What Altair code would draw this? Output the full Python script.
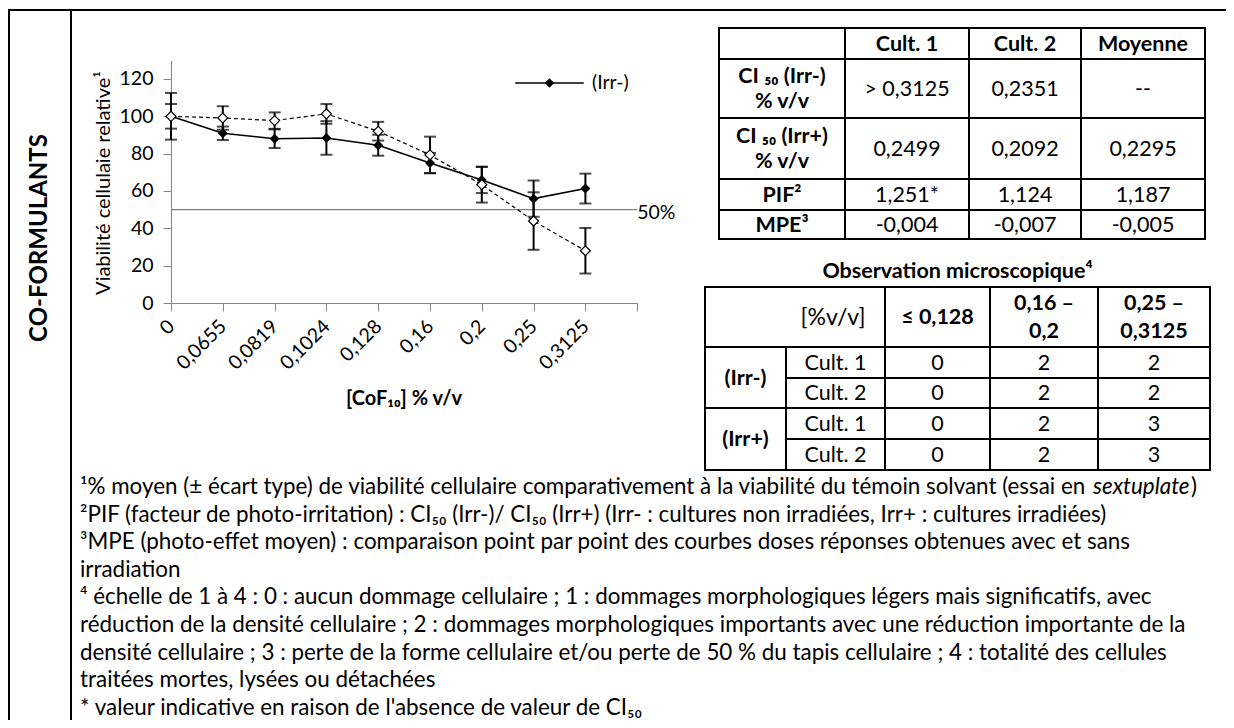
import altair as alt
import pandas as pd

# ---------------- data ----------------
conc_labels = ["0", "0,0655", "0,0819", "0,1024", "0,128", "0,16", "0,2", "0,25", "0,3125"]
irr_minus_mean = [100.0, 90.9, 88.0, 88.4, 84.5, 75.0, 65.9, 55.9, 61.3]
irr_minus_sd = [12.5, 3.6, 5.0, 9.0, 5.6, 5.4, 7.0, 9.7, 8.0]
irr_plus_mean = [100.0, 99.1, 97.7, 101.3, 92.0, 79.3, 63.4, 43.9, 28.0]
irr_plus_sd = [6.6, 6.3, 4.4, 5.3, 5.0, 9.8, 9.6, 15.4, 12.2]
y_tick_values = [0, 20, 40, 60, 80, 100, 120]
threshold_value = 50
threshold_label = "50%"
legend_label = "(Irr-)"
y_title = "Viabilité cellulaie relative¹"
x_title = "[CoF₁₀] % v/v"
side_label = "CO-FORMULANTS"

t1_header = ["Cult. 1", "Cult. 2", "Moyenne"]
t1_row_labels = [["CI ₅₀ (Irr-)", "% v/v"], ["CI ₅₀ (Irr+)", "% v/v"], ["PIF²"], ["MPE³"]]
t1_values = [["> 0,3125", "0,2351", "--"],
             ["0,2499", "0,2092", "0,2295"],
             ["1,251*", "1,124", "1,187"],
             ["-0,004", "-0,007", "-0,005"]]
t2_title = "Observation microscopique⁴"
t2_unit = "[%v/v]"
t2_ranges = [["≤ 0,128"], ["0,16 –", "0,2"], ["0,25 –", "0,3125"]]
t2_groups = ["(Irr-)", "(Irr+)"]
t2_cultures = ["Cult. 1", "Cult. 2", "Cult. 1", "Cult. 2"]
t2_scores = [["0", "2", "2"], ["0", "2", "2"], ["0", "2", "3"], ["0", "2", "3"]]

fn1_prefix = "¹% moyen (± écart type) de viabilité cellulaire comparativement à la viabilité du témoin solvant (essai en"
fn1_italic = "sextuplate"
fn1_suffix = ")"
footnotes = [
    "²PIF (facteur de photo-irritation) : CI₅₀ (Irr-)/ CI₅₀ (Irr+) (Irr- : cultures non irradiées, Irr+ : cultures irradiées)",
    "³MPE (photo-effet moyen) : comparaison point par point des courbes doses réponses obtenues avec et sans",
    "irradiation",
    "⁴ échelle de 1 à 4 : 0 : aucun dommage cellulaire ; 1 : dommages morphologiques légers mais significatifs, avec",
    "réduction de la densité cellulaire ; 2 : dommages morphologiques importants avec une réduction importante de la",
    "densité cellulaire ; 3 : perte de la forme cellulaire et/ou perte de 50 % du tapis cellulaire ; 4 : totalité des cellules",
    "traitées mortes, lysées ou détachées",
    "* valeur indicative en raison de l'absence de valeur de CI₅₀",
]

# ---------------- layout (page pixels) ----------------
M = 8
W, H = 1218, 712
FONT = "Lato"


def px(v):
    return v - M


AX_X0 = 171.0      # y axis position
STEP = 51.8        # category spacing
AX_Y0 = 303.0      # value 0
PPU = 1.867        # pixels per unit
Y_MAX = 130
TICK_FS = 19.5

x_scale = alt.Scale(domain=[0, 9], range=[px(AX_X0), px(AX_X0 + 9 * STEP)], nice=False, zero=False)
y_scale = alt.Scale(domain=[0, Y_MAX], range=[px(AX_Y0), px(AX_Y0 - Y_MAX * PPU)], nice=False, zero=False)

label_expr = "[" + ",".join("'%s'" % s for s in conc_labels) + "][datum.value] || ''"

x_axis = alt.Axis(values=list(range(10)), labelExpr=label_expr, labelAngle=315,
                  labelAlign="right", labelBaseline="middle", labelFont=FONT,
                  labelFontSize=TICK_FS, labelColor="black", labelPadding=12,
                  labelOverlap=False, labelFlush=False, tickSize=8,
                  tickColor="#868686", domainColor="#868686", grid=False,
                  title=None, offset=-(H - px(AX_Y0)))
y_axis = alt.Axis(values=y_tick_values, labelFont=FONT, labelFontSize=TICK_FS,
                  labelColor="black", labelPadding=10, labelFlush=False,
                  tickSize=8, tickColor="#868686", domainColor="#868686",
                  grid=False, title=None, offset=-px(AX_X0))


def series_df(means, sds):
    return pd.DataFrame({
        "idx": list(range(len(conc_labels))),
        "conc": conc_labels,
        "mean": means,
        "lo": [m - s for m, s in zip(means, sds)],
        "hi": [m + s for m, s in zip(means, sds)],
    })


df_m = series_df(irr_minus_mean, irr_minus_sd)
df_p = series_df(irr_plus_mean, irr_plus_sd)
df_50 = pd.DataFrame({"idx": [0], "idx_end": [len(conc_labels)], "v": [threshold_value],
                      "lab": [threshold_label]})

X = alt.X("idx:Q", scale=x_scale, axis=x_axis)


def Y(field):
    return alt.Y(field, scale=y_scale, axis=y_axis)


rule50 = alt.Chart(df_50).mark_rule(color="#808080", strokeWidth=1.2).encode(
    x=X, x2="idx_end:Q", y=Y("v:Q"))
text50 = alt.Chart(df_50).mark_text(font=FONT, fontSize=TICK_FS, align="left", baseline="middle",
                                    dx=0, dy=3, color="black").encode(
    x=alt.X("idx_end:Q", scale=x_scale, axis=x_axis), y=Y("v:Q"), text="lab:N")


def err_layers(df):
    bars = alt.Chart(df).mark_rule(color="black", strokeWidth=2).encode(
        x=X, y=Y("lo:Q"), y2="hi:Q")
    lo = alt.Chart(df).mark_tick(color="black", orient="horizontal", size=12, thickness=2).encode(
        x=X, y=Y("lo:Q"))
    hi = alt.Chart(df).mark_tick(color="black", orient="horizontal", size=12, thickness=2).encode(
        x=X, y=Y("hi:Q"))
    return [bars, lo, hi]


line_m = alt.Chart(df_m).mark_line(color="black", strokeWidth=1.6).encode(x=X, y=Y("mean:Q"))
line_p = alt.Chart(df_p).mark_line(color="black", strokeWidth=1.2, strokeDash=[4, 3]).encode(
    x=X, y=Y("mean:Q"))
pts_m = alt.Chart(df_m).mark_point(shape="diamond", filled=True, color="black", size=100,
                                   opacity=1).encode(x=X, y=Y("mean:Q"))
pts_p = alt.Chart(df_p).mark_point(shape="diamond", filled=True, fill="white", stroke="black",
                                   strokeWidth=1.2, size=100, opacity=1).encode(x=X, y=Y("mean:Q"))

data_chart = alt.layer(rule50, text50, *err_layers(df_m), *err_layers(df_p),
                       line_m, line_p, pts_m, pts_p)


# ---------------- layout helpers ----------------
def text_layer(items, **kw):
    props = dict(font=FONT, color="black", baseline="middle", align="center")
    props.update(kw)
    df = pd.DataFrame([{"x": px(x), "y": px(y), "text": t} for (x, y, t) in items])
    return alt.Chart(df).mark_text(**props).encode(
        x=alt.X("x:Q", scale=None, axis=None),
        y=alt.Y("y:Q", scale=None, axis=None),
        text="text:N")


def stacked(x, yc, lines, lh):
    """split a multi-line cell into single-line items centred on yc"""
    n = len(lines)
    return [(x, yc + (k - (n - 1) / 2) * lh, s) for k, s in enumerate(lines)]


def rules_layer(segs, width, color="black"):
    df = pd.DataFrame([{"x": px(a), "x2": px(b), "y": px(c), "y2": px(d)} for a, b, c, d in segs])
    return alt.Chart(df).mark_rule(color=color, strokeWidth=width, strokeCap="square").encode(
        x=alt.X("x:Q", scale=None, axis=None), x2="x2:Q",
        y=alt.Y("y:Q", scale=None, axis=None), y2="y2:Q")


# outer frame
frame = rules_layer([(9, W + M, 10, 10), (9, 9, 10, H + M), (71, 71, 10, H + M)], 2)

# table 1
T1_X = [719, 845, 969, 1081, 1205]
T1_Y = [28, 59, 118, 179, 210, 239]
t1_segs = [(T1_X[0], T1_X[-1], y, y) for y in T1_Y] + [(x, x, T1_Y[0], T1_Y[-1]) for x in T1_X]
t1_rules = rules_layer(t1_segs, 2)
t1_cx = [(T1_X[i] + T1_X[i + 1]) / 2 for i in range(4)]
t1_cy = [(T1_Y[i] + T1_Y[i + 1]) / 2 + 1 for i in range(5)]
t1_bold = [(t1_cx[j + 1], t1_cy[0], h) for j, h in enumerate(t1_header)]
for i, r in enumerate(t1_row_labels):
    t1_bold += stacked(t1_cx[0], t1_cy[i + 1], r, 25)
t1_reg = [(t1_cx[j + 1], t1_cy[i + 1], v) for i, row in enumerate(t1_values) for j, v in enumerate(row)]

# table 2
T2_L, T2_S, T2_R = 705, 786, 1210
T2_C = [885, 990, 1098]
T2_Y = [287, 347, 378, 408, 439, 470]
t2_segs = [(T2_L, T2_R, T2_Y[0], T2_Y[0]), (T2_L, T2_R, T2_Y[1], T2_Y[1]),
           (T2_S, T2_R, T2_Y[2], T2_Y[2]), (T2_L, T2_R, T2_Y[3], T2_Y[3]),
           (T2_S, T2_R, T2_Y[4], T2_Y[4]), (T2_L, T2_R, T2_Y[5], T2_Y[5])] + \
          [(x, x, T2_Y[0], T2_Y[-1]) for x in [T2_L] + T2_C + [T2_R]] + \
          [(T2_S, T2_S, T2_Y[1], T2_Y[-1])]
t2_rules = rules_layer(t2_segs, 2)
t2_colx = [(T2_C[0] + T2_C[1]) / 2, (T2_C[1] + T2_C[2]) / 2, (T2_C[2] + T2_R) / 2]
t2_hy = (T2_Y[0] + T2_Y[1]) / 2 + 1
t2_rowy = [(T2_Y[i] + T2_Y[i + 1]) / 2 + 1 for i in range(1, 5)]
t2_bold = [((T2_L + T2_R) / 2, 272, t2_title)]
for j, r in enumerate(t2_ranges):
    t2_bold += stacked(t2_colx[j], t2_hy, r, 28)
t2_bold += [((T2_L + T2_S) / 2, (T2_Y[1] + T2_Y[3]) / 2 + 1, t2_groups[0]),
            ((T2_L + T2_S) / 2, (T2_Y[3] + T2_Y[5]) / 2 + 1, t2_groups[1])]
t2_reg = [((T2_S + T2_C[0]) / 2, t2_rowy[i], c) for i, c in enumerate(t2_cultures)] + \
         [(t2_colx[j], t2_rowy[i], v) for i, row in enumerate(t2_scores) for j, v in enumerate(row)]

TABLE_FS = 21.5
layers_tables = [
    t1_rules, t2_rules,
    text_layer(t1_bold + t2_bold, fontSize=TABLE_FS, fontWeight="bold"),
    text_layer(t1_reg + t2_reg, fontSize=TABLE_FS),
    text_layer([(833, t2_hy, t2_unit)], fontSize=23),
]

# footnotes
FN_FS = 22.4
FN_X, FN_Y0, FN_DY = 80, 487, 27.6
fn_items = [(FN_X, FN_Y0 + FN_DY * (i + 1), t) for i, t in enumerate(footnotes)]
layers_fn = [
    text_layer([(FN_X, FN_Y0, fn1_prefix)] + fn_items, fontSize=FN_FS, align="left"),
    text_layer([(1093, FN_Y0, fn1_italic)], fontSize=FN_FS, align="left", fontStyle="italic"),
    text_layer([(1191, FN_Y0, fn1_suffix)], fontSize=FN_FS, align="left"),
]

# chart decorations
legend_line = rules_layer([(516, 583, 83, 83)], 1.6)
legend_pt = alt.Chart(pd.DataFrame({"x": [px(549.5)], "y": [px(83)]})).mark_point(
    shape="diamond", filled=True, color="black", size=90, opacity=1).encode(
    x=alt.X("x:Q", scale=None, axis=None), y=alt.Y("y:Q", scale=None, axis=None))
layers_deco = [
    text_layer([(40, 238, side_label)], fontSize=24, fontWeight="bold", angle=270),
    text_layer([(104, 183, y_title)], fontSize=20, angle=270),
    text_layer([(404, 399, x_title)], fontSize=20, fontWeight="bold"),
    legend_line, legend_pt,
    text_layer([(592, 83, legend_label)], fontSize=TICK_FS, align="left"),
]

chart = alt.layer(frame, *layers_tables, *layers_fn, *layers_deco, data_chart).resolve_scale(
    x="independent", y="independent"
).properties(
    width=W, height=H, padding=0, background="white",
    autosize=alt.AutoSizeParams(type="none"),
).configure_view(strokeWidth=0)

chart.save("out.html", embed_options={"renderer": "svg", "actions": False})
